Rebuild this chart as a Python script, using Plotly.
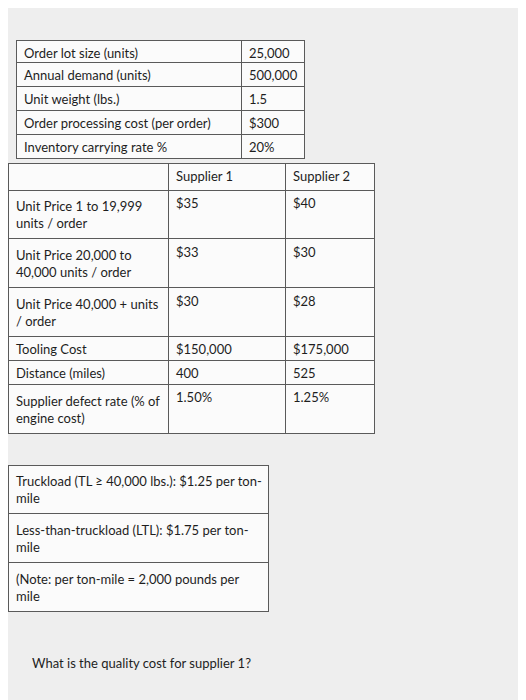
import plotly.graph_objects as go

# ---- data ----
params = ["Order lot size (units)", "Annual demand (units)", "Unit weight (lbs.)",
          "Order processing cost (per order)", "Inventory carrying rate %"]
param_values = ["25,000", "500,000", "1.5", "$300", "20%"]

suppliers = ["Supplier 1", "Supplier 2"]
items = ["Unit Price 1 to 19,999<br>units / order", "Unit Price 20,000 to<br>40,000 units / order",
         "Unit Price 40,000 + units<br>/ order", "Tooling Cost", "Distance (miles)",
         "Supplier defect rate (% of<br>engine cost)"]
supplier1 = ["$35", "$33", "$30", "$150,000", "400", "1.50%"]
supplier2 = ["$40", "$30", "$28", "$175,000", "525", "1.25%"]

freight = ["Truckload (TL ≥ 40,000 lbs.): $1.25 per ton-<br>mile",
           "Less-than-truckload (LTL): $1.75 per ton-<br>mile",
           "(Note: per ton-mile = 2,000 pounds per<br>mile"]
question = "What is the quality cost for supplier 1?"

W, H = 526, 700
FONT = dict(family="Lato", size=13, color="#1e1e1e")
LINE = dict(color="#5a5a5a", width=1)
FILL = "#fbfbfb"
DX, DY = -10, -8

def dom(x0, x1, y0, y1):
    x0, x1, y0, y1 = x0 + DX, x1 + DX, y0 + DY, y1 + DY
    return dict(x=[max(x0, 0) / W, x1 / W], y=[1 - y1 / H, 1 - y0 / H])

fig = go.Figure()
fig.add_trace(go.Table(
    domain=dom(18, 306, 40, 200),
    columnwidth=[225, 63],
    header=dict(values=[params[0], param_values[0]], height=22, align="left",
                fill_color=FILL, line=LINE, font=FONT),
    cells=dict(values=[params[1:], param_values[1:]], height=24, align="left",
               fill_color=FILL, line=LINE, font=FONT)))
fig.add_trace(go.Table(
    domain=dom(10, 376, 163, 440),
    columnwidth=[160, 117, 89],
    header=dict(values=[""] + suppliers, height=27, align="left",
                fill_color=FILL, line=LINE, font=FONT),
    cells=dict(values=[items, supplier1, supplier2], height=24, align="left",
               fill_color=FILL, line=LINE, font=FONT)))
fig.add_trace(go.Table(
    domain=dom(10, 270, 465, 620),
    columnwidth=[260],
    header=dict(values=[freight[0]], height=45, align="left",
                fill_color=FILL, line=LINE, font=FONT),
    cells=dict(values=[freight[1:]], height=47, align="left",
               fill_color=FILL, line=LINE, font=FONT)))
fig.add_annotation(text=question, x=22 / W, y=1 - 655 / H, xref="paper", yref="paper",
                   xanchor="left", yanchor="middle", showarrow=False, font=FONT)
fig.update_layout(width=W, height=H, margin=dict(l=0, r=0, t=0, b=0),
                  paper_bgcolor="#eeeeee", plot_bgcolor="#eeeeee")
fig.write_html("out.html")
